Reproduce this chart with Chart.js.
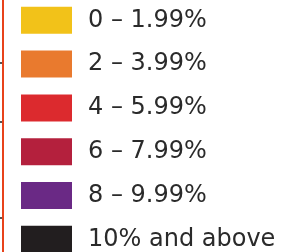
<!DOCTYPE html>
<html>
<head>
<meta charset="utf-8">
<script src="https://cdn.jsdelivr.net/npm/chart.js@4/dist/chart.umd.min.js"></script>
<style>
  html, body { margin: 0; padding: 0; background: #fff; }
  #wrap { position: relative; width: 281px; height: 252px; overflow: hidden; background: #fff; }
  #legendChart { position: absolute; left: 0; top: -6px; }
  .edge { position: absolute; left: 2px; top: 0; width: 2px; height: 252px; background: #E8431B; }
  .tick { position: absolute; left: 0; width: 2px; height: 2px; background: #555; }
</style>
</head>
<body>
<div id="wrap">
  <canvas id="legendChart" width="281" height="290"></canvas>
  <div class="edge"></div>
  <div class="tick" style="top:62px"></div>
  <div class="tick" style="top:121px"></div>
  <div class="tick" style="top:217px"></div>
</div>
<script>
// legend classes (share of value, %)
const rangeLabels = ['0 – 1.99%', '2 – 3.99%', '4 – 5.99%', '6 – 7.99%', '8 – 9.99%', '10% and above'];
const rangeColors = ['#F2C219', '#E97A2E', '#DC2A2E', '#B4203D', '#6A2985', '#221E1F'];

new Chart(document.getElementById('legendChart'), {
  type: 'bar',
  data: {
    labels: [''],
    datasets: rangeLabels.map((label, i) => ({
      label: label,
      data: [null],
      backgroundColor: rangeColors[i],
      borderColor: '#ffffff',
      borderWidth: 8
    }))
  },
  options: {
    responsive: false,
    animation: false,
    layout: { padding: { left: 8.2, top: 0 } },
    plugins: {
      tooltip: { enabled: false },
      legend: {
        position: 'left',
        align: 'start',
        maxWidth: 300,
        onClick: null,
        labels: {
          boxWidth: 59,
          boxHeight: 35,
          padding: 8.8,
          color: '#2a2a2a',
          font: { family: "'DejaVu Sans', Verdana, sans-serif", size: 24 }
        }
      }
    },
    scales: {
      x: { display: false },
      y: { display: false }
    }
  }
});
</script>
</body>
</html>
